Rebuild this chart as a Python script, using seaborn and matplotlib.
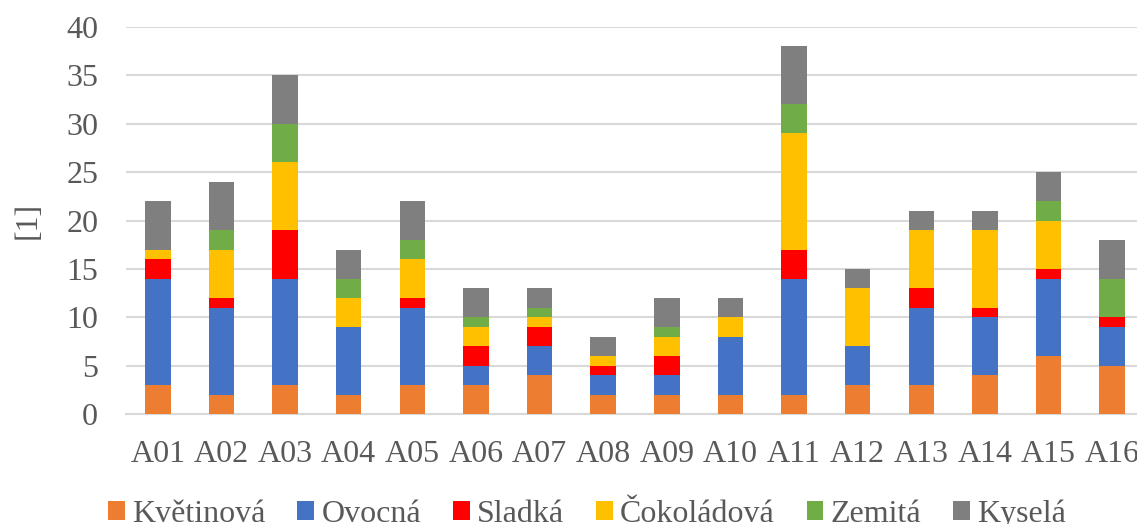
import numpy as np
import pandas as pd
import matplotlib
matplotlib.use("Agg")
import matplotlib.pyplot as plt
import seaborn as sns

samples = ["A01", "A02", "A03", "A04", "A05", "A06", "A07", "A08",
           "A09", "A10", "A11", "A12", "A13", "A14", "A15", "A16"]

kvetinova = [3, 2, 3, 2, 3, 3, 4, 2, 2, 2, 2, 3, 3, 4, 6, 5]
ovocna    = [11, 9, 11, 7, 8, 2, 3, 2, 2, 6, 12, 4, 8, 6, 8, 4]
sladka    = [2, 1, 5, 0, 1, 2, 2, 1, 2, 0, 3, 0, 2, 1, 1, 1]
cokoladova = [1, 5, 7, 3, 4, 2, 1, 1, 2, 2, 12, 6, 6, 8, 5, 0]
zemita    = [0, 2, 4, 2, 2, 1, 1, 0, 1, 0, 3, 0, 0, 0, 2, 4]
kysela    = [5, 5, 5, 3, 4, 3, 2, 2, 3, 2, 6, 2, 2, 2, 3, 4]

series_names = ["Květinová", "Ovocná", "Sladká", "Čokoládová", "Zemitá", "Kyselá"]
series_values = [kvetinova, ovocna, sladka, cokoladova, zemita, kysela]
series_colors = ["#ED7D31", "#4472C4", "#FF0000", "#FFC000", "#70AD47", "#7F7F7F"]

y_ticks = [0, 5, 10, 15, 20, 25, 30, 35, 40]

sns.set_theme(style="white")
plt.rcParams["font.family"] = ["Liberation Serif", "DejaVu Serif"]
text_color = "#595959"
fs = 23

fig = plt.figure(figsize=(11.37, 5.24), dpi=100)
ax = fig.add_axes([126 / 1137, 1 - 414 / 524, (1144 - 126) / 1137, (414 - 27) / 524])

bottom = np.zeros(len(samples))
for name, vals, color in zip(series_names, series_values, series_colors):
    df = pd.DataFrame({"sample": samples, "value": vals})
    sns.barplot(data=df, x="sample", y="value", order=samples, color=color,
                bottom=bottom.copy(), width=0.4, label=name, ax=ax,
                edgecolor="none", linewidth=0, saturation=1, zorder=3)
    bottom += np.array(vals)

if ax.get_legend() is not None:
    ax.get_legend().remove()

ax.set_ylim(0, 40)
ax.set_xlim(-0.5, len(samples) - 0.5)
ax.set_yticks(y_ticks)
ax.set_yticklabels([str(t) for t in y_ticks])
ax.yaxis.grid(True, color="#D9D9D9", linewidth=1.5, zorder=0)
ax.xaxis.grid(False)
for side in ["top", "right", "left"]:
    ax.spines[side].set_visible(False)
ax.spines["bottom"].set_color("#D9D9D9")
ax.spines["bottom"].set_linewidth(1.5)
ax.tick_params(axis="both", length=0, labelsize=fs, labelcolor=text_color)
ax.tick_params(axis="x", pad=19)
ax.tick_params(axis="y", pad=20)
ax.set_xlabel("")
ax.set_ylabel("[1]", fontsize=fs, color=text_color, labelpad=17)

handles, labels = ax.get_legend_handles_labels()
leg = fig.legend(handles, labels, loc="center", bbox_to_anchor=(587 / 1137, 1 - 514 / 524),
                 ncol=6, frameon=False, fontsize=fs, handlelength=0.53, handleheight=0.53,
                 handletextpad=0.22, columnspacing=1.0, labelcolor=text_color)

fig.savefig("out.png", dpi=100)
